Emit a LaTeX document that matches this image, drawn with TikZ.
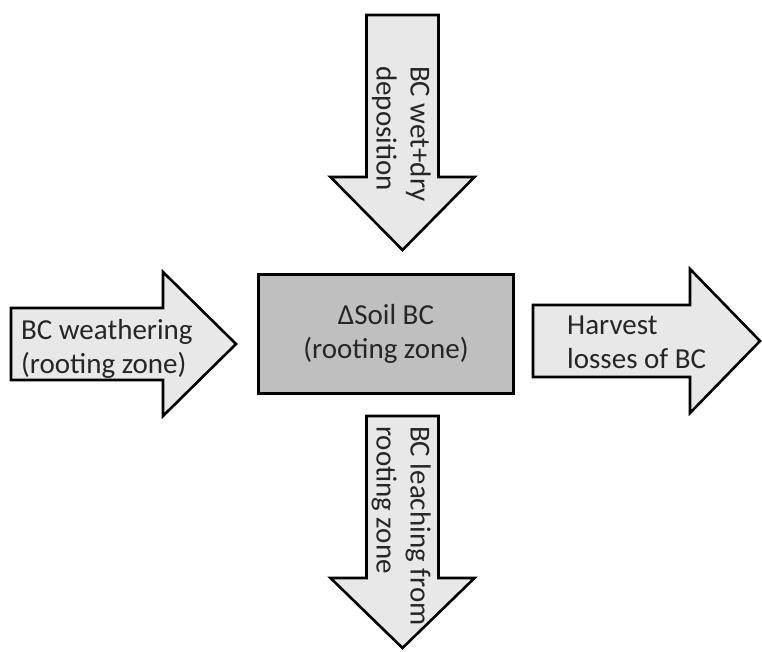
\documentclass[tikz,border=0pt]{standalone}
\usepackage{fontspec}
\setmainfont{Carlito}
\usetikzlibrary{positioning}
\tikzstyle{flow}=[draw=black,line width=2.6pt,fill=black!9,line join=miter]
\tikzstyle{pool}=[rectangle,draw=black,line width=3pt,fill=black!25,minimum width=255pt,minimum height=119pt,align=center,inner sep=0pt]
\tikzstyle{lbl}=[font=\fontsize{29}{34}\selectfont,text=black!85,inner sep=0pt]
\tikzset{fluxtext/.style={lbl,align=left}}

\begin{document}
\begin{tikzpicture}[x=1pt,y=-1pt]
\useasboundingbox (0,0) rectangle (762,652);

 %horizontal fluxes: tail/shoulder/tip/centre
 \def\sw{36};
 \def\hw{72};
 \foreach \xa/\xs/\xt/\yc in {11/163/236/344, 533/690/760/341}
   \draw[flow] (\xa,\yc-\sw) -- (\xs,\yc-\sw) -- (\xs,\yc-\hw) -- (\xt,\yc)
         -- (\xs,\yc+\hw) -- (\xs,\yc+\sw) -- (\xa,\yc+\sw) -- cycle;

 %vertical fluxes
 \foreach \ya/\ys/\yt/\xc in {15/177/250/402.5, 416/578/648/402.5}
   \draw[flow] (\xc-\sw,\ya) -- (\xc-\sw,\ys) -- (\xc-\hw,\ys) -- (\xc,\yt)
         -- (\xc+\hw,\ys) -- (\xc+\sw,\ys) -- (\xc+\sw,\ya) -- cycle;

 %pool
 \node[pool] (soil) at (386,334) {};
 \node[lbl,align=center] (soiltext) at (soil.center) {ΔSoil BC\\(rooting zone)};

 %labels
 \node[fluxtext,anchor=west] (weather) at (21,349) {BC weathering\\(rooting zone)};
 \node[fluxtext,anchor=west] (harvest) at (567,342) {Harvest\\losses of BC};
 \node[fluxtext,rotate=-90,anchor=north west] (depo) at (431,66) {BC wet+dry\\deposition};
 \node[fluxtext,rotate=-90,anchor=north west] (leach) at (431,426) {BC leaching from\\rooting zone};

\end{tikzpicture}
\end{document}
